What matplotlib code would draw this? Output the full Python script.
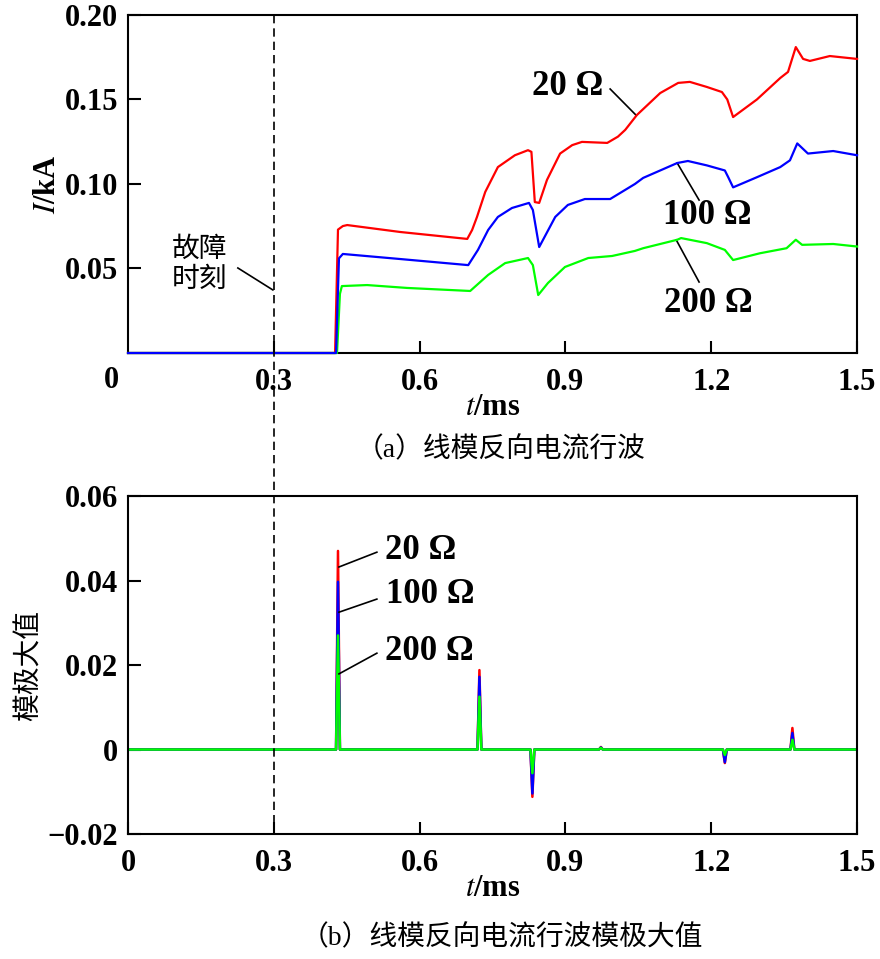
import matplotlib
matplotlib.use("Agg")
from matplotlib import pyplot as plt
from matplotlib.lines import Line2D
import matplotlib.transforms as mtransforms

plt.rcParams['font.family'] = ['Liberation Serif', 'Noto Sans CJK SC']
plt.rcParams['mathtext.fontset'] = 'stix'
plt.rcParams['axes.linewidth'] = 1.5

# (a) line-mode reverse current traveling wave, I/kA vs t/ms
t_20 = [0, 0.426, 0.432, 0.442, 0.451, 0.56, 0.698, 0.708, 0.718, 0.735, 0.761, 0.796, 0.823,
        0.830, 0.837, 0.846, 0.862, 0.889, 0.914, 0.934, 0.986, 1.008, 1.023, 1.047, 1.095,
        1.132, 1.156, 1.191, 1.222, 1.233, 1.245, 1.294, 1.342, 1.358, 1.374, 1.389, 1.403,
        1.444, 1.5]
i_20 = [0, 0, 0.073, 0.0751, 0.0757, 0.0716, 0.0675, 0.0728, 0.0805, 0.0953, 0.110, 0.117,
        0.120, 0.119, 0.0893, 0.0888, 0.1024, 0.118, 0.123, 0.1249, 0.1243, 0.128, 0.132, 0.1408,
        0.1538, 0.1598, 0.1604, 0.1574, 0.1544, 0.150, 0.1396, 0.150, 0.1627, 0.1663, 0.181,
        0.174, 0.1728, 0.1757, 0.174]

t_100 = [0, 0.428, 0.434, 0.442, 0.56, 0.700, 0.720, 0.741, 0.761, 0.790, 0.825, 0.833, 0.846,
         0.879, 0.905, 0.940, 0.992, 1.043, 1.060, 1.130, 1.152, 1.191, 1.228, 1.235, 1.245,
         1.294, 1.342, 1.362, 1.377, 1.399, 1.451, 1.5]
i_100 = [0, 0, 0.056, 0.0586, 0.0556, 0.052, 0.061, 0.0728, 0.0805, 0.0858, 0.0888, 0.0846,
         0.0627, 0.0805, 0.0876, 0.0911, 0.0911, 0.100, 0.1036, 0.1124, 0.1136, 0.111, 0.108,
         0.104, 0.098, 0.104, 0.110, 0.114, 0.124, 0.118, 0.1195, 0.117]

t_200 = [0, 0.430, 0.436, 0.440, 0.492, 0.574, 0.704, 0.741, 0.776, 0.823, 0.833, 0.844, 0.864,
         0.899, 0.947, 0.996, 1.043, 1.060, 1.130, 1.138, 1.191, 1.228, 1.245, 1.300, 1.355,
         1.374, 1.387, 1.451, 1.5]
i_200 = [0, 0, 0.035, 0.0396, 0.0402, 0.0385, 0.0367, 0.0462, 0.0532, 0.0562, 0.052, 0.0343,
         0.0414, 0.0509, 0.0562, 0.0574, 0.0604, 0.062, 0.067, 0.068, 0.065, 0.061, 0.055,
         0.059, 0.062, 0.067, 0.064, 0.0645, 0.063]

# (b) modulus maxima: spike times and peak values
spike_t = [0.432, 0.723, 0.832, 0.973, 1.228, 1.367]
pk_20 = [0.047, 0.0188, -0.0112, 0.0006, -0.0032, 0.0051]
pk_100 = [0.0397, 0.0172, -0.0104, 0.0005, -0.0030, 0.0039]
pk_200 = [0.027, 0.0125, -0.0056, 0.0004, -0.0013, 0.0023]

fault_t = 0.3


def spikes(tc, pk, hw=0.004):
    t = [0.0]
    v = [0.0]
    for c, p in zip(tc, pk):
        t += [c - hw, c, c + hw]
        v += [0.0, p, 0.0]
    t.append(1.5)
    v.append(0.0)
    return t, v


fig = plt.figure(figsize=(8.8, 9.59), dpi=100)
ax1 = fig.add_axes([0.1455, 0.6319, 0.8284, 0.3525])
ax2 = fig.add_axes([0.1455, 0.1303, 0.8284, 0.3525])

ax1.plot(t_20, i_20, color='#ff0000', lw=1.6, zorder=3, clip_on=False)
ax1.plot(t_200, i_200, color='#00ff00', lw=1.6, zorder=3, clip_on=False)
ax1.plot(t_100, i_100, color='#0000ff', lw=1.6, zorder=3, clip_on=False)
ax1.set_xlim(0, 1.5)
ax1.set_ylim(0, 0.2)
ax1.set_xticks([0.3, 0.6, 0.9, 1.2, 1.5])
ax1.set_xticklabels(['0.3', '0.6', '0.9', '1.2', '1.5'])
ax1.set_yticks([0.05, 0.10, 0.15, 0.20])
ax1.set_yticklabels(['0.05', '0.10', '0.15', '0.20'])
ax1.text(-0.035, -0.016, '0', fontsize=22, ha='center', va='center', fontweight='bold')
ax1.set_ylabel(r'$\mathbf{\mathit{I}}$/kA', fontsize=22, labelpad=2, fontweight='bold')
ax1.set_xlabel(r'$\mathbf{\mathit{t}}$/ms', fontsize=22, labelpad=-3, fontweight='bold')

for ax in (ax1, ax2):
    ax.tick_params(direction='in', length=9, width=1.5, labelsize=22,
                   top=False, right=False)
    ax.tick_params(axis='y', pad=7)
    ax.tick_params(axis='x', pad=11)
    for lab in ax.get_xticklabels() + ax.get_yticklabels():
        lab.set_fontweight('bold')

# annotations in (a)
ann_a = [('20 Ω', (0.905, 0.1577), (0.992, 0.1562), (1.045, 0.1408)),
         ('100 Ω', (1.191, 0.0811), (1.130, 0.1124), (1.175, 0.0905)),
         ('200 Ω', (1.195, 0.029), (1.128, 0.0669), (1.175, 0.0420))]
for txt, pos, p0, p1 in ann_a:
    ax1.text(pos[0], pos[1], txt, fontsize=25, ha='center', va='center', fontweight='bold')
    ax1.plot([p0[0], p1[0]], [p0[1], p1[1]], color='black', lw=1.2)
ax1.text(0.148, 0.052, '故障\n时刻', fontsize=20, ha='center', va='center',
         linespacing=1.2)
ax1.plot([0.226, 0.298], [0.0503, 0.0373], color='black', lw=1.2)

for t0, pk, c in [(spike_t, pk_20, '#ff0000'), (spike_t, pk_100, '#0000ff'),
                  (spike_t, pk_200, '#00ff00')]:
    tt, vv = spikes(t0, pk)
    ax2.plot(tt, vv, color=c, lw=1.8)
ax2.set_xlim(0, 1.5)
ax2.set_ylim(-0.02, 0.06)
ax2.set_xticks([0, 0.3, 0.6, 0.9, 1.2, 1.5])
ax2.set_xticklabels(['0', '0.3', '0.6', '0.9', '1.2', '1.5'])
ax2.set_yticks([-0.02, 0, 0.02, 0.04, 0.06])
ax2.set_yticklabels(['\u22120.02', '0', '0.02', '0.04', '0.06'])
for lab in ax2.get_xticklabels() + ax2.get_yticklabels():
    lab.set_fontweight('bold')
ax2.set_ylabel('模极大值', fontsize=20, labelpad=4)
ax2.set_xlabel(r'$\mathbf{\mathit{t}}$/ms', fontsize=22, labelpad=-3, fontweight='bold')

ann_b = [('20 Ω', (0.603, 0.0470), (0.512, 0.0467), (0.434, 0.0432)),
         ('100 Ω', (0.621, 0.0366), (0.512, 0.0356), (0.434, 0.0325)),
         ('200 Ω', (0.621, 0.0233), (0.512, 0.0228), (0.434, 0.0179))]
for txt, pos, p0, p1 in ann_b:
    ax2.text(pos[0], pos[1], txt, fontsize=25, ha='center', va='center', fontweight='bold')
    ax2.plot([p0[0], p1[0]], [p0[1], p1[1]], color='black', lw=1.2)

# fault instant dashed line across both panels
trans = mtransforms.blended_transform_factory(ax1.transData, fig.transFigure)
fig.add_artist(Line2D([fault_t, fault_t], [0.9844, 0.1303], transform=trans,
                      color='black', lw=1.2, linestyle=(0, (5, 3))))

fig.text(0.569, 1 - 450 / 959, '（a）线模反向电流行波', fontsize=20, ha='center', va='center')
fig.text(0.570, 1 - 938 / 959, '（b）线模反向电流行波模极大值', fontsize=20, ha='center', va='center')

fig.savefig('out.png', dpi=100)
